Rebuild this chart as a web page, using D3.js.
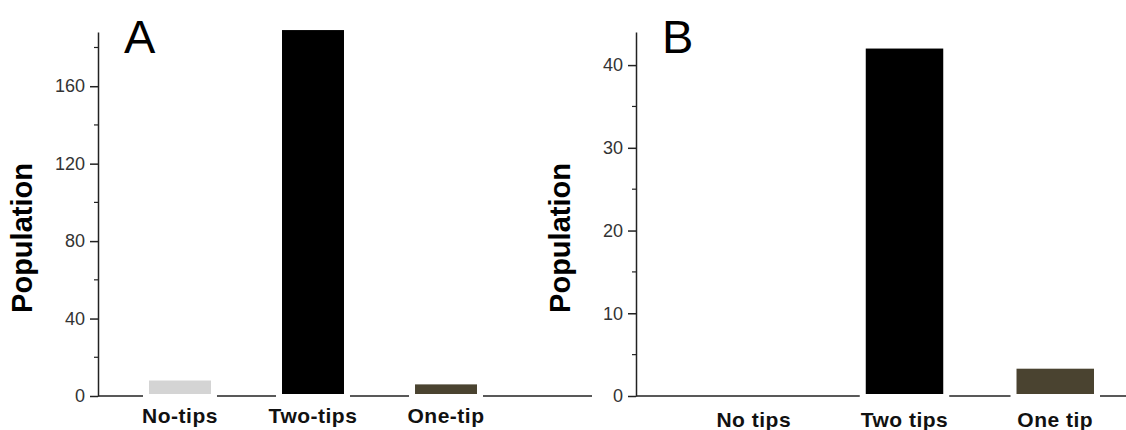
<!DOCTYPE html>
<html>
<head>
<meta charset="utf-8">
<script src="https://cdn.jsdelivr.net/npm/d3@7"></script>
<style>
  body { margin: 0; background: #fff; }
  svg { display: block; font-family: Arial, "Liberation Sans", sans-serif; }
</style>
</head>
<body>
<div id="root"></div>
<script>
// data
const catsA = ['No-tips', 'Two-tips', 'One-tip'];
const valsA = [8, 189, 6];
const catsB = ['No tips', 'Two tips', 'One tip'];
const valsB = [0, 42, 3.3];
const colors = ['#d4d4d4', '#000000', '#4a4330'];
const ticksA = [0, 40, 80, 120, 160];
const minorA = [20, 60, 100, 140, 180];
const ticksB = [0, 10, 20, 30, 40];
const minorB = [5, 15, 25, 35];

let width = 1126, height = 430;
const ink = '#222';

const svg = d3.select('#root')
  .append('svg')
  .attr('width', width)
  .attr('height', height);

// draw one panel
function panel(opt) {
  const g = svg.append('g');

  const y = d3.scaleLinear().domain([0, opt.ymax]).range([396, 32]);
  const x = d3.scaleBand()
    .domain(opt.cats)
    .range(opt.band)
    .paddingInner(opt.pad)
    .paddingOuter(0);

  // x axis line (broken around bars)
  g.append('line')
    .attr('x1', opt.left).attr('x2', opt.right)
    .attr('y1', y(0)).attr('y2', y(0))
    .attr('stroke', ink).attr('stroke-width', 1.5);

  const rows = opt.cats.map((c, i) => ({c: c, v: opt.vals[i], col: colors[i]}));

  // white gaps in the baseline next to each bar
  g.selectAll('rect.gap')
    .data(rows.filter(d => d.v > 0))
    .enter().append('rect')
    .attr('class', 'gap')
    .attr('x', d => x(d.c) - 6)
    .attr('width', x.bandwidth() + 12)
    .attr('y', y(0) - 4)
    .attr('height', 8)
    .attr('fill', '#fff');

  g.selectAll('rect.bar')
    .data(rows.filter(d => d.v > 0))
    .enter().append('rect')
    .attr('class', 'bar')
    .attr('x', d => x(d.c))
    .attr('width', x.bandwidth())
    .attr('y', d => y(d.v))
    .attr('height', d => y(0) - 2 - y(d.v))
    .attr('fill', d => d.col);

  // y axis
  const ax = g.append('g')
    .attr('transform', 'translate(' + [opt.left, 0] + ')')
    .call(d3.axisLeft(y).tickValues(opt.ticks).tickSize(8).tickPadding(5).tickSizeOuter(0));
  ax.select('.domain').attr('stroke', ink).attr('stroke-width', 1.5);
  ax.selectAll('.tick line').attr('stroke', ink).attr('stroke-width', 1.5);
  ax.selectAll('.tick text')
    .attr('fill', '#333')
    .style('font-size', '18px');

  g.selectAll('line.minor')
    .data(opt.minor)
    .enter().append('line')
    .attr('class', 'minor')
    .attr('x1', opt.left - 4).attr('x2', opt.left)
    .attr('y1', d => y(d)).attr('y2', d => y(d))
    .attr('stroke', ink).attr('stroke-width', 1.2);

  // category labels
  g.selectAll('text.cat')
    .data(opt.cats)
    .enter().append('text')
    .attr('class', 'cat')
    .attr('x', d => x(d) + x.bandwidth() / 2)
    .attr('y', opt.labelY)
    .attr('text-anchor', 'middle')
    .style('font-size', '21px')
    .style('font-weight', 'bold')
    .style('letter-spacing', '0.5px')
    .attr('fill', '#111')
    .text(d => d);

  // y title
  g.append('text')
    .attr('transform', 'translate(' + [opt.left - 66, 238] + ') rotate(-90)')
    .attr('text-anchor', 'middle')
    .style('font-size', '29px')
    .style('font-weight', 'bold')
    .attr('fill', '#000')
    .text('Population');

  // panel letter
  g.append('text')
    .attr('x', opt.left + 26)
    .attr('y', 53)
    .style('font-size', '47px')
    .attr('fill', '#000')
    .text(opt.letter);
}

panel({cats: catsA, vals: valsA, ymax: 188, ticks: ticksA, minor: minorA,
  left: 98, right: 592, band: [149, 477], pad: 0.534, labelY: 423, letter: 'A'});
panel({cats: catsB, vals: valsB, ymax: 44, ticks: ticksB, minor: minorB,
  left: 636, right: 1126, band: [715, 1094], pad: 0.486, labelY: 427, letter: 'B'});
</script>
</body>
</html>
